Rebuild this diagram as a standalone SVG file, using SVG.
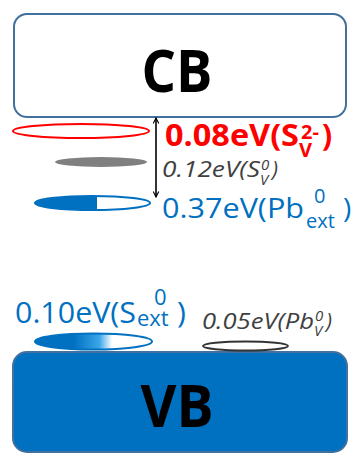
<svg xmlns="http://www.w3.org/2000/svg" width="359" height="453" viewBox="0 0 359 453">
  <style>
    .band { stroke: #41719c; stroke-width: 2; }
    .bandlabel { font-family: "Open Sans", "Liberation Sans", sans-serif; font-weight: bold; font-size: 59px; fill: #000; text-anchor: middle; }
    .lbl { font-family: "Open Sans", "Liberation Sans", sans-serif; }
    .red { fill: #ff0000; font-weight: bold; }
    .blue { fill: #0070c0; }
    .grey { fill: #404040; font-style: italic; }
  </style>
  <defs>
    <marker id="arrowhead" viewBox="0 0 10 10" refX="9" refY="5" markerWidth="7" markerHeight="7" orient="auto-start-reverse" markerUnits="userSpaceOnUse">
      <path d="M1,1 L9,5 L1,9" fill="none" stroke="#000" stroke-width="1.6"/>
    </marker>
    <linearGradient id="fadeBlue" x1="0" y1="0" x2="1" y2="0">
      <stop offset="0" stop-color="#0070c0"/>
      <stop offset="0.33" stop-color="#0070c0"/>
      <stop offset="0.55" stop-color="#3aa6ea"/>
      <stop offset="0.66" stop-color="#ffffff"/>
      <stop offset="1" stop-color="#ffffff"/>
    </linearGradient>
    <clipPath id="leftHalf">
      <rect x="30" y="190" width="67" height="30"/>
    </clipPath>
  </defs>

  <!-- conduction band -->
  <g id="cb">
    <rect class="band" x="14" y="14" width="332" height="103" rx="13" fill="#ffffff"/>
    <text class="bandlabel" x="177" y="92" textLength="71" lengthAdjust="spacingAndGlyphs">CB</text>
  </g>

  <!-- valence band -->
  <g id="vb">
    <rect class="band" x="13" y="352" width="334" height="100" rx="14" fill="#0070c0"/>
    <text class="bandlabel" x="177" y="427" textLength="73" lengthAdjust="spacingAndGlyphs">VB</text>
  </g>

  <!-- defect level: S_V^2- -->
  <g id="sv2">
    <ellipse cx="81" cy="131" rx="68" ry="7" fill="#ffffff" stroke="#ff0000" stroke-width="2"/>
    <text class="lbl red" font-size="30"><tspan x="165" y="146" textLength="134" lengthAdjust="spacingAndGlyphs">0.08eV(S</tspan><tspan x="301" y="139" font-size="20">2-</tspan><tspan x="299" y="157" font-size="20">V</tspan><tspan x="322" y="146">)</tspan></text>
  </g>

  <!-- defect level: S_V^0 -->
  <g id="sv0">
    <ellipse cx="101" cy="162" rx="46" ry="5" fill="#808080"/>
    <text class="lbl grey" font-size="21"><tspan x="162" y="177" textLength="98" lengthAdjust="spacingAndGlyphs">0.12eV(S</tspan><tspan x="261" y="170" font-size="15">0</tspan><tspan x="260" y="185" font-size="15">V</tspan><tspan x="272" y="177">)</tspan></text>
  </g>

  <!-- defect level: Pb_ext^0 -->
  <g id="pbext">
    <ellipse cx="92.5" cy="203" rx="57.5" ry="7" fill="#0070c0" clip-path="url(#leftHalf)"/>
    <ellipse cx="92.5" cy="203" rx="57.5" ry="7" fill="none" stroke="#0070c0" stroke-width="2"/>
    <text class="lbl blue" font-size="28"><tspan x="162" y="218" textLength="142" lengthAdjust="spacingAndGlyphs">0.37eV(Pb</tspan><tspan x="314" y="203" font-size="20">0</tspan><tspan x="306" y="228" font-size="20">ext</tspan><tspan x="343" y="218">)</tspan></text>
  </g>

  <!-- defect level: S_ext^0 -->
  <g id="sext">
    <ellipse cx="93.5" cy="341.5" rx="58.5" ry="8" fill="url(#fadeBlue)" stroke="#0070c0" stroke-width="2"/>
    <text class="lbl blue" font-size="30"><tspan x="15" y="323" textLength="121" lengthAdjust="spacingAndGlyphs">0.10eV(S</tspan><tspan x="154" y="305" font-size="22">0</tspan><tspan x="137" y="326" font-size="22">ext</tspan><tspan x="177" y="323">)</tspan></text>
  </g>

  <!-- defect level: Pb_V^0 -->
  <g id="pbv">
    <ellipse cx="245.5" cy="346" rx="42.5" ry="4.5" fill="#ffffff" stroke="#333333" stroke-width="2"/>
    <text class="lbl grey" font-size="21"><tspan x="202" y="329" textLength="112" lengthAdjust="spacingAndGlyphs">0.05eV(Pb</tspan><tspan x="315" y="321" font-size="15">0</tspan><tspan x="314" y="336" font-size="15">V</tspan><tspan x="326" y="329">)</tspan></text>
  </g>

  <!-- energy gap arrow -->
  <g id="connectors">
    <line x1="156" y1="118" x2="156" y2="197" stroke="#000" stroke-width="1.6" marker-start="url(#arrowhead)" marker-end="url(#arrowhead)"/>
  </g>
</svg>
